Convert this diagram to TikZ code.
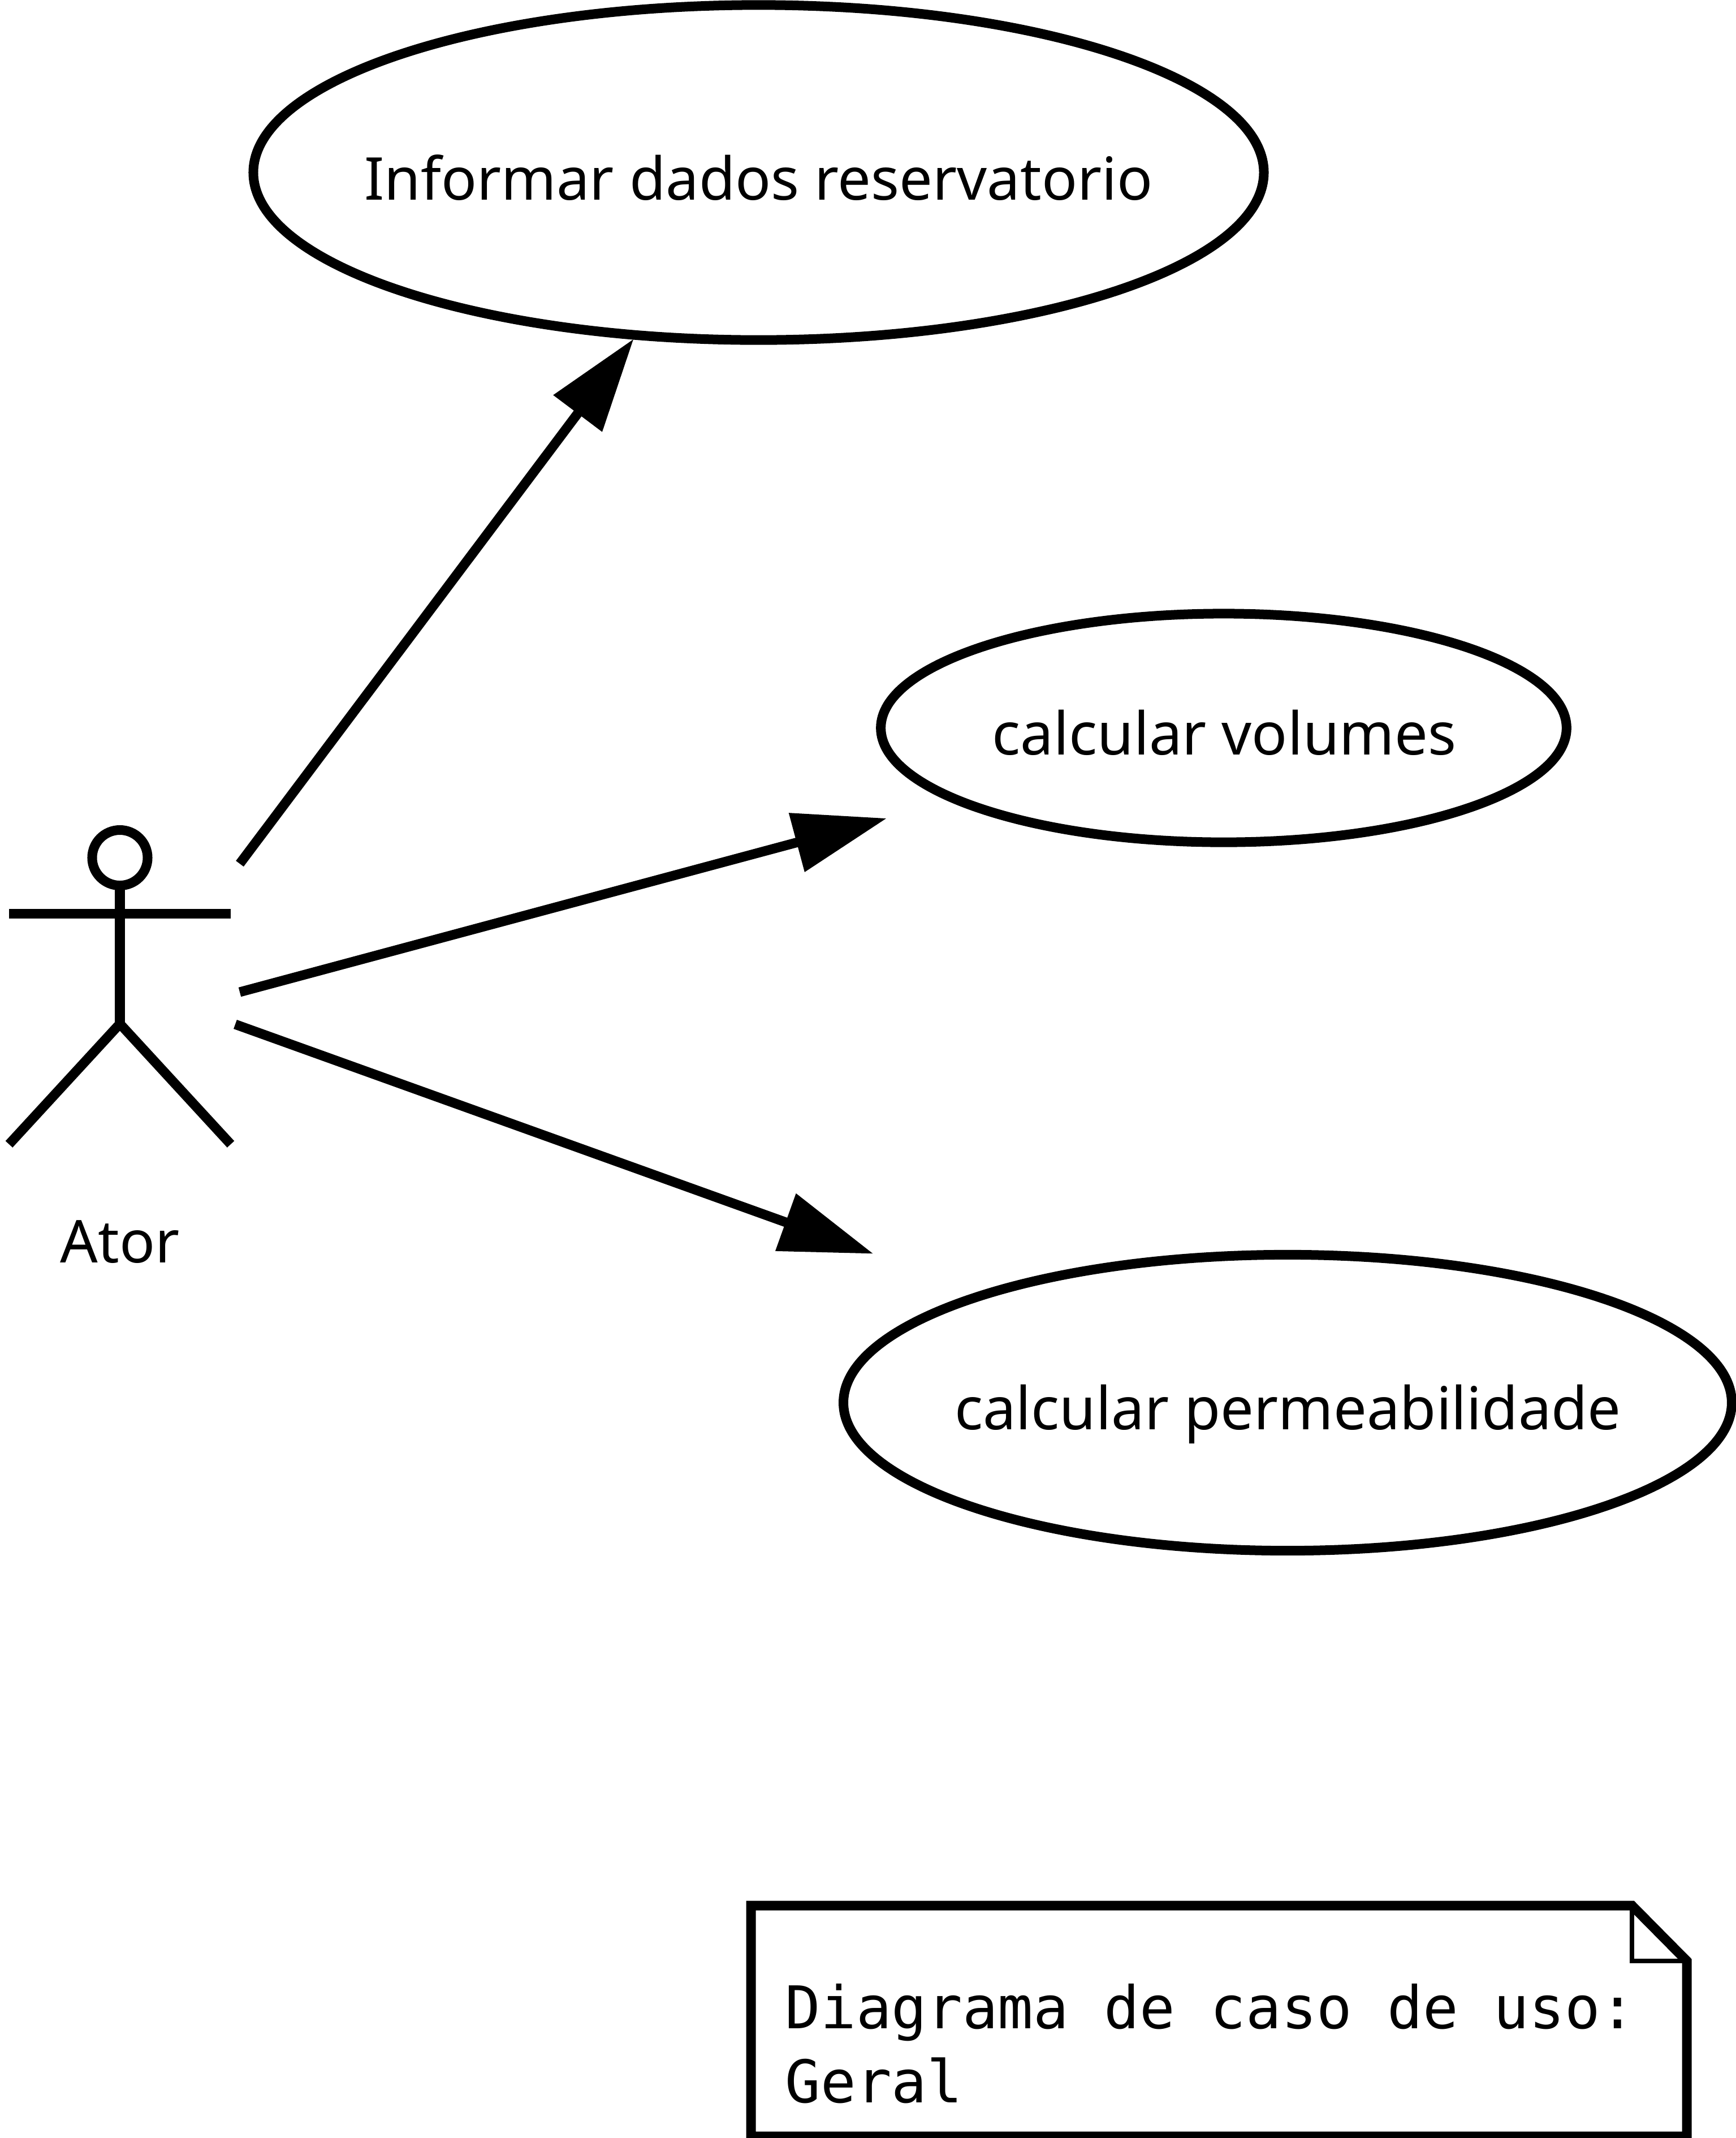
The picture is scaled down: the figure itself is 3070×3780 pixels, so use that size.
\documentclass[tikz,border=0pt]{standalone}
\usepackage{fontspec}
\usetikzlibrary{shapes.geometric,arrows.meta}
\setmainfont{Noto Sans}
\setmonofont{DejaVu Sans Mono}
\begin{document}
\begin{tikzpicture}[x=0.01cm,y=-0.01cm,
  usecase/.style={draw=black,line width=0.17cm,ellipse,inner sep=0pt,outer sep=0pt},
  lbl/.style={inner sep=0pt,anchor=base,font=\fontsize{29.7}{36}\selectfont},
  ln/.style={draw=black,line width=0.17cm},
  thinln/.style={draw=black,line width=0.08cm},
  assoc/.style={ln,-{Triangle[length=1.65cm,width=1.035cm]}},
  notetext/.style={inner sep=0pt,align=left,anchor=base west,font=\ttfamily\fontsize{29.6}{37}\selectfont}]
\path[fill=white] (0,0) rectangle (3070,3780);
\useasboundingbox (0,0) rectangle (3070,3780);
\node[usecase,minimum width=17.86cm,minimum height=5.92cm] (uc1) at (1341.5,305) {};
\node[lbl] (t1) at (1341.5,353) {Informar dados reservatorio};
\node[usecase,minimum width=12.12cm,minimum height=4.04cm] (uc2) at (2164,1287) {};
\node[lbl] (t2) at (2165,1334) {calcular volumes};
\node[usecase,minimum width=15.70cm,minimum height=5.23cm] (uc3) at (2277,2480) {};
\node[lbl] (t3) at (2277.5,2527) {calcular permeabilidade};
\node[ln,circle,inner sep=0pt,minimum size=0.98cm,outer sep=0pt] (head) at (212,1516.5) {};
\coordinate (hip) at (212,1810);
\coordinate (armL) at (16,1615);
\coordinate (armR) at (408,1615);
\coordinate (footL) at (16,2023);
\coordinate (footR) at (408,2023);
\draw[ln] (head.south) -- (hip);
\draw[ln] (armL) -- (armR);
\draw[ln] (footL) -- (hip) -- (footR);
\node[lbl] (ator) at (212,2232) {Ator};
\coordinate (s1) at (424,1527);
\coordinate (e1) at (1120.7,599);
\coordinate (s2) at (424,1754);
\coordinate (e2) at (1568.3,1446.7);
\coordinate (s3) at (416,1811);
\coordinate (e3) at (1544.7,2216.7);
\draw[assoc] (s1) -- (e1);
\draw[assoc] (s2) -- (e2);
\draw[assoc] (s3) -- (e3);
\draw[ln,miter limit=10] (1328,3369) -- (2886,3369) -- (2983,3467) -- (2983,3777) -- (1328,3777) -- cycle;
\draw[thinln] (2886,3369) -- (2886,3467) -- (2983,3467);
\node[notetext] (note) at (1388,3717) {Diagrama de caso de uso:\\Geral};
\end{tikzpicture}
\end{document}
